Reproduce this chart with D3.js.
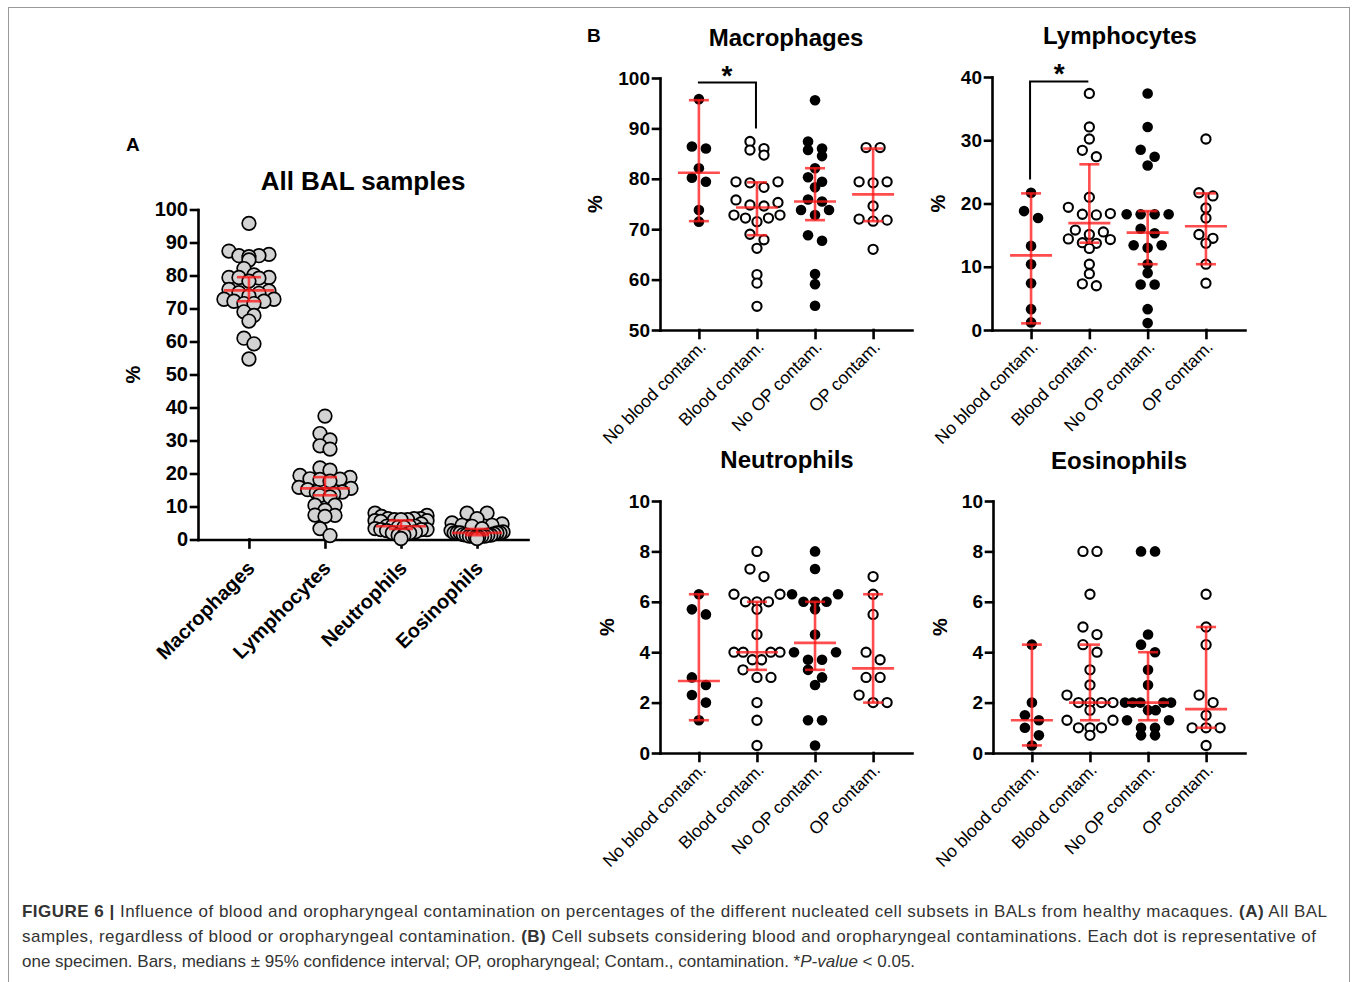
<!DOCTYPE html>
<html>
<head>
<meta charset="utf-8">
<script src="https://cdn.jsdelivr.net/npm/d3@7"></script>
<style>
  body { margin: 0; background: #fff; }
  text { font-family: "Liberation Sans", Arial, sans-serif; }
</style>
</head>
<body>
<svg id="fig" width="1357" height="982"></svg>
<script>
// ---- data ----
var cellTypes = ["Macrophages", "Lymphocytes", "Neutrophils", "Eosinophils"];
var groups = ["No blood contam.", "Blood contam.", "No OP contam.", "OP contam."];
var groupFilled = [true, false, true, false];

var macNoBlood = [95.8, 86.0, 86.4, 82.1, 80.2, 79.4, 73.8, 71.5];
var macBlood = [87.4, 86.0, 85.7, 84.7, 79.4, 79.4, 79.2, 78.3, 75.8, 75.3, 74.6, 74.8, 72.8, 72.8, 72.2, 72.2, 71.5, 69.0, 67.9, 66.2, 61.0, 59.3, 54.7];
var macNoOP = [95.6, 87.4, 86.0, 85.7, 84.5, 82.1, 80.3, 79.4, 78.3, 75.9, 75.5, 73.8, 73.8, 72.8, 68.8, 67.7, 61.1, 59.1, 54.8];
var macOP = [86.2, 86.2, 79.2, 79.4, 79.4, 74.6, 72.0, 71.6, 71.8, 66.0];
var macMed = [81.2, 74.3, 75.5, 76.9], macLo = [71.6, 68.8, 71.8, 71.6], macHi = [95.6, 79.3, 82.1, 86.0];

var lymNoBlood = [21.7, 18.8, 17.7, 13.3, 10.4, 7.4, 3.3, 1.2];
var lymBlood = [37.4, 32.1, 30.2, 28.4, 27.4, 21.0, 19.4, 18.4, 18.3, 18.2, 15.8, 15.5, 15.1, 14.4, 14.3, 13.8, 13.7, 12.9, 10.4, 8.9, 7.3, 7.0];
var lymNoOP = [37.4, 32.1, 28.5, 27.4, 26.0, 18.3, 18.3, 18.3, 18.3, 16.0, 15.3, 13.4, 13.4, 13.0, 10.4, 9.0, 7.2, 7.2, 3.3, 1.1];
var lymOP = [30.2, 21.7, 21.2, 19.3, 17.7, 15.1, 14.5, 13.7, 10.4, 7.4];
var lymMed = [11.8, 16.9, 15.4, 16.4], lymLo = [1.05, 13.8, 10.4, 10.4], lymHi = [21.6, 26.2, 18.8, 21.6];

var neuNoBlood = [6.3, 5.7, 5.5, 3.0, 2.7, 2.3, 2.0, 1.3];
var neuBlood = [8.0, 7.3, 7.0, 6.3, 6.3, 6.0, 6.0, 6.0, 5.7, 4.7, 4.0, 4.0, 4.0, 4.0, 3.7, 3.7, 3.3, 3.0, 3.0, 2.0, 1.3, 0.3];
var neuNoOP = [8.0, 7.3, 6.3, 6.3, 6.0, 6.0, 6.0, 5.7, 4.7, 4.0, 4.0, 3.7, 3.7, 3.3, 3.0, 2.7, 1.3, 1.3, 0.3];
var neuOP = [7.0, 6.3, 5.5, 4.0, 3.7, 3.0, 3.0, 2.3, 2.0, 2.0];
var neuMed = [2.86, 4.0, 4.37, 3.36], neuLo = [1.3, 3.3, 3.3, 2.0], neuHi = [6.3, 6.0, 6.0, 6.3];

var eosNoBlood = [4.3, 2.0, 1.5, 1.3, 1.0, 0.7, 0.3];
var eosBlood = [8.0, 8.0, 6.3, 5.0, 4.7, 4.3, 4.0, 3.3, 2.7, 2.3, 2.0, 2.0, 2.0, 2.0, 1.7, 1.3, 1.3, 1.0, 1.0, 1.0, 0.7];
var eosNoOP = [8.0, 8.0, 4.7, 4.3, 4.0, 3.3, 2.7, 2.0, 2.0, 2.0, 2.0, 2.0, 1.7, 1.7, 1.3, 1.3, 1.0, 1.0, 0.7, 0.7];
var eosOP = [6.3, 5.0, 4.3, 2.3, 2.0, 1.5, 1.0, 1.0, 1.0, 0.3];
var eosMed = [1.3, 2.0, 2.0, 1.74], eosLo = [0.3, 1.3, 1.3, 1.0], eosHi = [4.3, 4.3, 4.0, 5.0];

// panel A: every sample (blood split covers all of them)
var allMed = [75.5, 15.5, 4.0, 2.0], allLo = [72.2, 13.4, 3.2, 1.3], allHi = [79.5, 18.9, 5.8, 3.2];

var ticksA = [0, 10, 20, 30, 40, 50, 60, 70, 80, 90, 100];
var ticksMac = [50, 60, 70, 80, 90, 100];
var ticksLym = [0, 10, 20, 30, 40];
var ticksSmall = [0, 2, 4, 6, 8, 10];

var svg = d3.select("#fig");
var RED = "#ff1a1a";

// scatter layout: points falling in the same row are spread sideways,
// rows that get too wide are squeezed (dots may overlap, as in Prism)
function scatterRows(values, y, cx, binH, step, maxHalf) {
	var pts = values.map(function(v) { return {v: v, y: y(v)}; })
		.sort(function(a, b) { return a.y - b.y; });
	var rows = [], cur = null;
	pts.forEach(function(p) {
		if (!cur || p.y - cur.start > binH) { cur = {start: p.y, items: []}; rows.push(cur); }
		cur.items.push(p);
	});
	rows.forEach(function(r) {
		var n = r.items.length, half = (n - 1) / 2;
		var s = half * step > maxHalf ? maxHalf / half : step;
		// zig-zag assignment so a row does not look like a slanted line
		var order = [], lo = 0, hi = n - 1;
		while (lo <= hi) { order.push(lo++); if (lo <= hi) order.push(hi--); }
		r.items.forEach(function(p, i) { p.x = cx + (order[i] - half) * s; });
	});
	return pts;
}

function drawPanel(o) {
	var g = svg.append("g");
	var y = d3.scaleLinear().domain([o.ticks[0], o.ticks[o.ticks.length - 1]]).range([o.bottom, o.top]);
	var x = d3.scalePoint().domain(o.cats).range([o.left, o.right]).padding(0.67);

	var ya = g.append("g").attr("transform", "translate(" + o.left + ",0)")
		.call(d3.axisLeft(y).tickValues(o.ticks).tickSize(7).tickSizeOuter(0).tickPadding(3));
	g.append("g").attr("transform", "translate(0," + o.bottom + ")")
		.call(d3.axisBottom(x).tickSize(8).tickSizeOuter(0).tickFormat(""));
	g.selectAll(".domain, .tick line").attr("stroke", "#000").attr("stroke-width", 2.6)
		.attr("stroke-linecap", "square");
	ya.selectAll("text").attr("fill", "#000").style("font-size", o.tickFont + "px")
		.style("font-weight", "bold").style("font-family", "Liberation Sans, Arial, sans-serif");

	// category labels, rotated
	g.selectAll(".xlab").data(o.cats).enter().append("text")
		.attr("transform", function(d) {
			return "translate(" + (x(d) + o.labDx) + "," + (o.bottom + o.labDy) + ") rotate(-45)";
		})
		.attr("text-anchor", "end")
		.style("font-size", o.labFont + "px")
		.style("font-weight", o.labWeight)
		.text(function(d) { return d; });

	// points
	o.series.forEach(function(vals, i) {
		var pts = scatterRows(vals, y, x(o.cats[i]), o.binH, o.step, o.maxHalf);
		var f = o.filled[i];
		g.selectAll(null).data(pts).enter().append("circle")
			.attr("cx", function(d) { return d.x; })
			.attr("cy", function(d) { return d.y; })
			.attr("r", f === true ? o.r + 0.7 : o.r)
			.attr("fill", f === "grey" ? "#d3d3d3" : (f ? "#000" : "#fff"))
			.attr("stroke", "#000")
			.attr("stroke-width", f === true ? 0 : o.strokeW);
	});

	// medians with 95% CI
	var bars = g.append("g").attr("stroke", RED).attr("stroke-width", 2.6).attr("stroke-opacity", 0.78);
	o.cats.forEach(function(c, i) {
		var cx = x(c);
		bars.append("line").attr("x1", cx).attr("x2", cx).attr("y1", y(o.lo[i])).attr("y2", y(o.hi[i]));
		bars.append("line").attr("x1", cx - o.capW).attr("x2", cx + o.capW).attr("y1", y(o.lo[i])).attr("y2", y(o.lo[i]));
		bars.append("line").attr("x1", cx - o.capW).attr("x2", cx + o.capW).attr("y1", y(o.hi[i])).attr("y2", y(o.hi[i]));
		bars.append("line").attr("x1", cx - o.medW).attr("x2", cx + o.medW).attr("y1", y(o.med[i])).attr("y2", y(o.med[i]));
	});

	// title and y label
	g.append("text").attr("x", o.titleX).attr("y", o.titleY).attr("text-anchor", "middle")
		.style("font-size", o.titleFont + "px").style("font-weight", "bold").text(o.title);
	g.append("text").attr("transform", "translate(" + (o.left - o.yLabOff) + "," + ((o.top + o.bottom) / 2) + ") rotate(-90)")
		.attr("text-anchor", "middle").attr("dy", "0.35em")
		.style("font-size", "20px").style("font-weight", "bold").text("%");

	// significance bracket
	if (o.sig) {
		var s = o.sig, xa0 = x(o.cats[s.from]) - 1, xa1 = x(o.cats[s.to]) - 1;
		var path = s.leg === "left"
			? [[xa0, y(s.legEnd)], [xa0, y(s.at)], [xa1, y(s.at)]]
			: [[xa0, y(s.at)], [xa1, y(s.at)], [xa1, y(s.legEnd)]];
		g.append("path").attr("d", d3.line()(path)).attr("fill", "none")
			.attr("stroke", "#000").attr("stroke-width", 2);
		g.append("text").attr("x", (xa0 + xa1) / 2).attr("y", y(s.at) + 2).attr("text-anchor", "middle")
			.style("font-size", "28px").style("font-weight", "bold").text("*");
	}
}

var base = {
	cats: groups, filled: groupFilled, r: 4.6, strokeW: 2.1, binH: 8, step: 14, maxHalf: 23,
	tickFont: 19, labFont: 17.5, labWeight: "normal", labDx: 8, labDy: 18,
	capW: 10, medW: 21, titleFont: 24
};

drawPanel(Object.assign({}, base, {
	cats: cellTypes, filled: ["grey", "grey", "grey", "grey"],
	series: [macNoBlood.concat(macBlood), lymNoBlood.concat(lymBlood), neuNoBlood.concat(neuBlood), eosNoBlood.concat(eosBlood)],
	med: allMed, lo: allLo, hi: allHi, ticks: ticksA,
	left: 198, right: 528, top: 209.5, bottom: 539.5,
	r: 6.8, strokeW: 1.7, binH: 7, step: 10, maxHalf: 26,
	tickFont: 20, labFont: 20, labWeight: "bold", labDx: 7, labDy: 30,
	capW: 12, medW: 25, titleFont: 26, title: "All BAL samples", titleX: 363, titleY: 190, yLabOff: 65
}));

drawPanel(Object.assign({}, base, {
	series: [macNoBlood, macBlood, macNoOP, macOP], med: macMed, lo: macLo, hi: macHi, ticks: ticksMac,
	left: 660, right: 912, top: 78, bottom: 330,
	title: "Macrophages", titleX: 786, titleY: 46, yLabOff: 65,
	sig: {from: 0, to: 1, at: 99.1, legEnd: 90, leg: "right"}
}));

drawPanel(Object.assign({}, base, {
	series: [lymNoBlood, lymBlood, lymNoOP, lymOP], med: lymMed, lo: lymLo, hi: lymHi, ticks: ticksLym,
	left: 992, right: 1245, top: 77, bottom: 330,
	title: "Lymphocytes", titleX: 1120, titleY: 44, yLabOff: 54,
	sig: {from: 0, to: 1, at: 39.3, legEnd: 23.8, leg: "left"}
}));

drawPanel(Object.assign({}, base, {
	series: [neuNoBlood, neuBlood, neuNoOP, neuOP], med: neuMed, lo: neuLo, hi: neuHi, ticks: ticksSmall,
	left: 660, right: 912, top: 501, bottom: 753,
	title: "Neutrophils", titleX: 787, titleY: 468, yLabOff: 53
}));

drawPanel(Object.assign({}, base, {
	series: [eosNoBlood, eosBlood, eosNoOP, eosOP], med: eosMed, lo: eosLo, hi: eosHi, ticks: ticksSmall,
	left: 993, right: 1245, top: 501, bottom: 753,
	title: "Eosinophils", titleX: 1119, titleY: 469, yLabOff: 53
}));

// panel letters
svg.append("text").attr("x", 126).attr("y", 151).style("font-size", "19px").style("font-weight", "bold").text("A");
svg.append("text").attr("x", 587).attr("y", 42).style("font-size", "19px").style("font-weight", "bold").text("B");

// frame
svg.append("rect").attr("x", 8.5).attr("y", 7.5).attr("width", 1341).attr("height", 1000)
	.attr("fill", "none").attr("stroke", "#999").attr("stroke-width", 1);

// caption
var capLines = [
	{w: 1305, parts: [["FIGURE 6 |", "bold"], [" Influence of blood and oropharyngeal contamination on percentages of the different nucleated cell subsets in BALs from healthy macaques. ", ""], ["(A)", "bold"], [" All BAL", ""]]},
	{w: 1294, parts: [["samples, regardless of blood or oropharyngeal contamination. ", ""], ["(B)", "bold"], [" Cell subsets considering blood and oropharyngeal contaminations. Each dot is representative of", ""]]},
	{w: 0, parts: [["one specimen. Bars, medians \u00b1 95% confidence interval; OP, oropharyngeal; Contam., contamination. *", ""], ["P-value", "italic"], [" < 0.05.", ""]]}
];
capLines.forEach(function(l, i) {
	var t = svg.append("text").attr("x", 22).attr("y", 917 + i * 25)
		.style("font-size", "17px").attr("fill", "#333");
	if (l.w) t.attr("textLength", l.w).attr("lengthAdjust", "spacing");
	l.parts.forEach(function(p) {
		var ts = t.append("tspan").text(p[0]);
		if (p[1] === "bold") ts.style("font-weight", "bold");
		if (p[1] === "italic") ts.style("font-style", "italic");
	});
});
</script>
</body>
</html>
